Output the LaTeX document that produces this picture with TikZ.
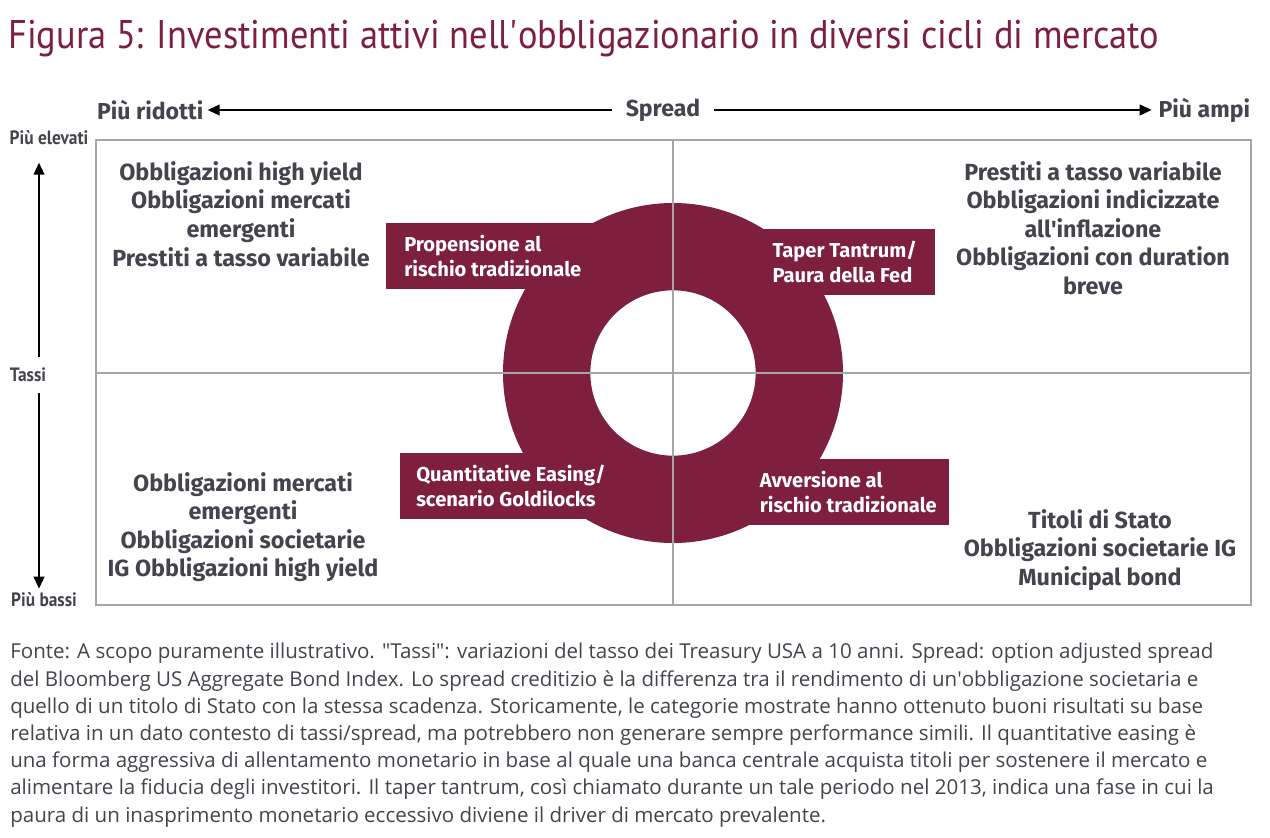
\documentclass[tikz,border=0pt]{standalone}
\usepackage{fontspec}
\setmainfont{Open Sans}
\newfontfamily\condfont{Fira Sans}
\newfontfamily\narrowfont[FakeStretch=0.9]{PT Sans}
\newfontfamily\titlefont[FakeStretch=0.91]{PT Sans}
\usetikzlibrary{arrows.meta}

\definecolor{ciclo}{HTML}{7D1F3D}
\definecolor{testo}{HTML}{43444C}
\definecolor{griglia}{HTML}{A6A6A6}
\newcommand{\apos}{\textquotesingle}
\newcommand{\virg}{\textquotedbl}

\begin{document}
\begin{tikzpicture}
  [x=0.75pt, y=-0.75pt,
   quadrante/.style={align=center, text=testo, font=\condfont\bfseries\fontsize{17.5}{21.4}\selectfont},
   fase/.style={fill=ciclo, text=white, align=left, minimum height=49.5pt, inner ysep=0pt,
                font=\condfont\bfseries\fontsize{15.1}{18.75}\selectfont},
   asse/.style={text=testo, inner sep=1pt, font=\condfont\bfseries\fontsize{17.3}{19}\selectfont},
   tasso/.style={text=testo, inner sep=1pt, font=\narrowfont\bfseries\fontsize{14.5}{16}\selectfont},
   freccia/.style={line width=1.5pt, -{Triangle[length=9pt,width=8pt]}}]

\useasboundingbox (0,0) rectangle (1270,838);

%%%  title
\node [anchor=base west, inner sep=0pt, text=ciclo, font=\titlefont\fontsize{30}{32}\selectfont] (titolo) at (8,49)
  {Figura 5: Investimenti attivi nell\apos obbligazionario in diversi cicli di mercato};

%%%  spread axis
\node [asse] (spread) at (663,110) {Spread};
\node [asse, anchor=east] (ridotti) at (205,110) {Più ridotti};
\node [asse, anchor=west] (ampi) at (1157,110) {Più ampi};
\draw [freccia, shorten <=9pt, shorten >=2pt] (spread) -- (ridotti);
\draw [freccia, shorten <=9pt, shorten >=4pt] (spread) -- (ampi);

%%%  rates axis
\coordinate (vasse) at (39,0);
\node [tasso] (tassi) at (28,375) {Tassi};
\node [tasso] (elevati) at (49,138) {Più elevati};
\node [tasso] (bassi) at (44,600) {Più bassi};
\draw [freccia, shorten <=7pt, shorten >=12pt] (tassi.north -| vasse) -- (elevati.south -| vasse);
\draw [freccia, shorten <=7pt, shorten >=2pt] (tassi.south -| vasse) -- (bassi.north -| vasse);

%%%  cycle

% ring
\coordinate (centro) at (673,373);
\fill [ciclo, even odd rule] (centro) circle (127.5pt) circle (62pt);

% phases
\node [fase, anchor=north west, inner xsep=13.5pt] (propensione) at (386,223)
  {Propensione al\\rischio tradizionale};
\node [fase, anchor=north east, inner xsep=13.5pt] (taper) at (935,229)
  {Taper Tantrum/\\Paura della Fed};
\node [fase, anchor=north west, inner xsep=12pt] (easing) at (400,453)
  {Quantitative Easing/\\scenario Goldilocks};
\node [fase, anchor=north east, inner xsep=9pt] (avversione) at (949,459)
  {Avversione al\\rischio tradizionale};

%%%  grid
\draw [griglia, line width=1.1pt] (96,140) rectangle (1251,605);
\draw [griglia, line width=1.1pt] (673,140) -- (673,605);
\draw [griglia, line width=1.1pt] (96,373) -- (1251,373);

%%%  quadrants
\node [quadrante] (altosx) at (241,214)
  {Obbligazioni high yield\\Obbligazioni mercati\\emergenti\\Prestiti a tasso variabile};
\node [quadrante] (altodx) at (1093,228)
  {Prestiti a tasso variabile\\Obbligazioni indicizzate\\all\apos inflazione\\Obbligazioni con duration\\breve};
\node [quadrante] (bassosx) at (243,527)
  {Obbligazioni mercati\\emergenti\\Obbligazioni societarie\\IG Obbligazioni high yield};
\node [quadrante] (bassodx) at (1100,550)
  {Titoli di Stato\\Obbligazioni societarie IG\\Municipal bond};

%%%  note
\node [anchor=north west, align=left, inner sep=0pt, text=testo, font=\fontsize{15.4}{20.4}\selectfont] (fonte) at (10,643)
  {Fonte: A scopo puramente illustrativo. \virg Tassi\virg: variazioni del tasso dei Treasury USA a 10 anni. Spread: option adjusted spread\\
   del Bloomberg US Aggregate Bond Index. Lo spread creditizio è la differenza tra il rendimento di un\apos obbligazione societaria e\\
   quello di un titolo di Stato con la stessa scadenza. Storicamente, le categorie mostrate hanno ottenuto buoni risultati su base\\
   relativa in un dato contesto di tassi/spread, ma potrebbero non generare sempre performance simili. Il quantitative easing è\\
   una forma aggressiva di allentamento monetario in base al quale una banca centrale acquista titoli per sostenere il mercato e\\
   alimentare la fiducia degli investitori. Il taper tantrum, così chiamato durante un tale periodo nel 2013, indica una fase in cui la\\
   paura di un inasprimento monetario eccessivo diviene il driver di mercato prevalente.};

\end{tikzpicture}
\end{document}
